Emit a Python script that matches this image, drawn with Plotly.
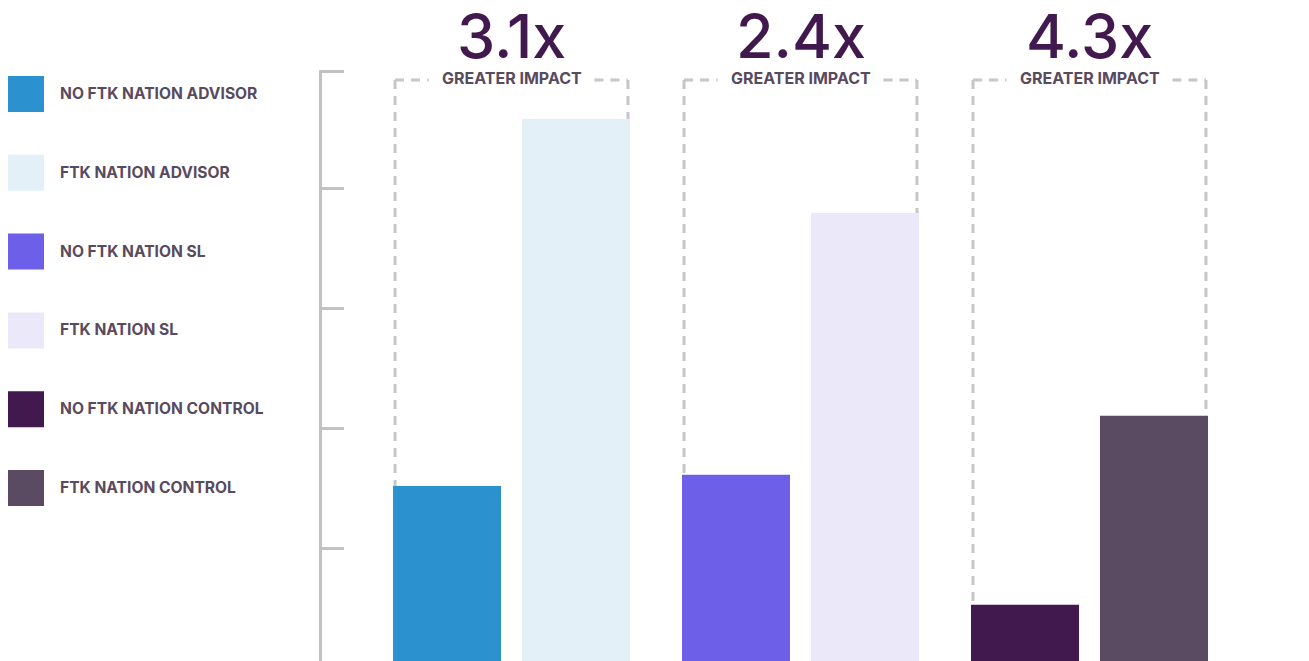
import plotly.graph_objects as go

# ---- data ----
groups = ["ADVISOR", "SL", "CONTROL"]
no_ftk = [29.6, 31.5, 9.5]
with_ftk = [91.7, 75.8, 41.5]
multipliers = ["3.1x", "2.4x", "4.3x"]
subtitle = "GREATER IMPACT"
legend_labels = ["NO FTK NATION ADVISOR", "FTK NATION ADVISOR",
                 "NO FTK NATION SL", "FTK NATION SL",
                 "NO FTK NATION CONTROL", "FTK NATION CONTROL"]
tick_vals = [19.1, 39.4, 59.7, 79.9, 99.75]

# ---- style ----
no_colors = ["#2b91cf", "#6e5fe9", "#42194e"]
with_colors = ["#e3f0f8", "#ebe9f9", "#5a4a62"]
legend_colors = [c for pair in zip(no_colors, with_colors) for c in pair]
PAGE_W, PAGE_H = 1309, 661
OFF = 8  # default page body margin
W, H = PAGE_W - OFF, PAGE_H - OFF
grey = "#c2c2c2"
text_col = "#594a60"
num_col = "#42194e"
FONT = "Inter"


def px(x):
    return (x - OFF) / W


def py(y):
    return 1 - (y - OFF) / H


bar_w = 0.3737
inner = 0.0363
box_top = 98.3
title_gap = 0.287

fig = go.Figure()
fig.add_trace(go.Bar(x=groups, y=no_ftk, marker=dict(color=no_colors, line=dict(width=0)),
                     width=bar_w, offset=-(bar_w + inner), showlegend=False, hoverinfo="skip"))
fig.add_trace(go.Bar(x=groups, y=with_ftk, marker=dict(color=with_colors, line=dict(width=0)),
                     width=bar_w, offset=inner, showlegend=False, hoverinfo="skip"))

shapes = []
annotations = []
dash_line = dict(color="#c6c6c6", width=3, dash="9px,7px")
for i, g in enumerate(groups):
    xl = i - (bar_w + inner) + 0.007
    xr = i + (bar_w + inner) - 0.007
    shapes.append(dict(type="line", xref="x", yref="y", x0=xl, x1=i - title_gap, y0=box_top, y1=box_top,
                       line=dash_line, layer="below"))
    shapes.append(dict(type="line", xref="x", yref="y", x0=i + title_gap, x1=xr, y0=box_top, y1=box_top,
                       line=dash_line, layer="below"))
    shapes.append(dict(type="line", xref="x", yref="y", x0=xl, x1=xl, y0=box_top, y1=no_ftk[i],
                       line=dash_line, layer="below"))
    shapes.append(dict(type="line", xref="x", yref="y", x0=xr, x1=xr, y0=box_top, y1=with_ftk[i],
                       line=dash_line, layer="below"))
    annotations.append(dict(x=i, xref="x", y=py(36), yref="paper", text=multipliers[i],
                            showarrow=False, xanchor="center", yanchor="middle",
                            font=dict(family=FONT, size=61, color=num_col, weight=500)))
    annotations.append(dict(x=i, xref="x", y=py(78), yref="paper", text="<b>" + subtitle + "</b>",
                            showarrow=False, xanchor="center", yanchor="middle",
                            font=dict(family=FONT, size=16, color=text_col)))

# custom legend
for k, (lab, col) in enumerate(zip(legend_labels, legend_colors)):
    cy = 94 + k * 78.8
    shapes.append(dict(type="rect", xref="paper", yref="paper",
                       x0=px(8), x1=px(44), y0=py(cy + 18), y1=py(cy - 18),
                       fillcolor=col, line=dict(width=0)))
    annotations.append(dict(x=px(58), xref="paper", y=py(cy - 0.5), yref="paper",
                            text="<b>" + lab + "</b>", showarrow=False,
                            xanchor="left", yanchor="middle",
                            font=dict(family=FONT, size=15.6, color=text_col)))

x_axis_px = 322
x0 = 511.5
step = 289
fig.update_layout(
    width=W, height=H,
    margin=dict(l=0, r=0, t=0, b=0),
    paper_bgcolor="white", plot_bgcolor="white",
    barmode="overlay",
    shapes=shapes, annotations=annotations,
    xaxis=dict(type="category", domain=[px(x_axis_px), 1],
               range=[-(x0 - x_axis_px) / step, (PAGE_W - x0) / step],
               showline=False, showgrid=False, showticklabels=False, ticks="", zeroline=False),
    yaxis=dict(domain=[0, py(70)], range=[0, 100],
               showline=True, linecolor=grey, linewidth=3,
               ticks="inside", ticklen=22, tickwidth=3, tickcolor=grey,
               tickvals=tick_vals, showticklabels=False, showgrid=False, zeroline=False),
)

fig.write_html("out.html")
